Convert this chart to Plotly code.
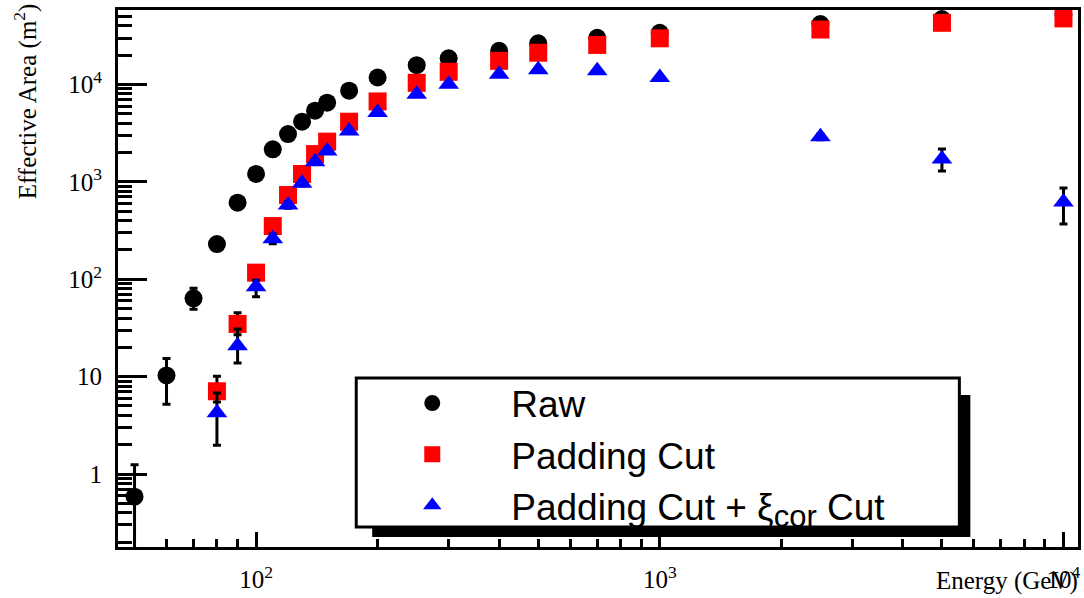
import plotly.graph_objects as go

# ---- data ----
energy_raw = [50, 60, 70, 80, 90, 100, 110, 120, 130, 140, 150, 170, 200,
              250, 300, 400, 500, 700, 1000, 2500, 5000, 10000]
area_raw = [0.586, 10.3, 63.8, 230, 611, 1206, 2160, 3100, 4150, 5380, 6500,
            8630, 11800, 15800, 18600, 22200, 26500, 30200, 34000, 41800,
            47000, 51800]
err_raw_hi = [0.66, 5.1, 16.9, 30, 45, 60, 80, 95, 110, 125, 140, 160, 190,
              220, 240, 270, 290, 320, 340, 380, 400, 430]
err_raw_lo = [0.49, 5.1, 14.6, 30, 45, 60, 80, 95, 110, 125, 140, 160, 190,
              220, 240, 270, 290, 320, 340, 380, 400, 430]

energy_cut = [80, 90, 100, 110, 120, 130, 140, 150, 170, 200, 250, 300, 400,
              500, 700, 1000, 2500, 5000, 10000]
area_pad = [7.08, 34.8, 117, 352, 733, 1206, 1930, 2590, 4150, 6700, 10400,
            13500, 17500, 21200, 25500, 29800, 36700, 43000, 47700]
err_pad_hi = [3.0, 10.6, 18, 35, 50, 65, 85, 100, 130, 160, 200, 220, 250,
              280, 300, 320, 360, 390, 420]
err_pad_lo = [1.6, 7.8, 16, 35, 50, 65, 85, 100, 130, 160, 200, 220, 250,
              280, 300, 320, 360, 390, 420]

area_xi = [4.26, 20.8, 84, 261, 580, 970, 1610, 2075, 3330, 5160, 7950,
           10070, 12760, 14160, 13830, 11800, 2910, 1718, 622]
err_xi_hi = [2.54, 10.1, 14, 30, 45, 60, 75, 85, 110, 140, 170, 190, 210,
             220, 220, 210, 200, 462, 243]
err_xi_lo = [2.28, 7.0, 18, 30, 45, 60, 75, 85, 110, 140, 170, 190, 210,
             220, 220, 210, 200, 424, 252]

names = ["Raw", "Padding Cut",
         "Padding Cut + \u03be<sub><span style=\"font-size:31px\">cor</span></sub>\u00a0Cut"]

x_tickvals = [100, 1000, 10000]
x_ticktext = ["10<sup>2</sup>", "10<sup>3</sup>", "10<sup>4</sup>"]
y_tickvals = [1, 10, 100, 1000, 10000]
y_ticktext = ["1", "10", "10<sup>2</sup>", "10<sup>3</sup>", "10<sup>4</sup>"]
x_minor = [m * 10 ** d for d in (1, 2, 3) for m in range(2, 10) if 45 <= m * 10 ** d <= 11000]
y_minor = [m * 10 ** d for d in (-1, 0, 1, 2, 3, 4) for m in range(2, 10) if 0.15 <= m * 10 ** d <= 60000]

serif = "Liberation Serif"
sans = "Liberation Sans"

def err(hi, lo):
    return dict(type="data", symmetric=False, array=hi, arrayminus=lo,
                color="black", thickness=3, width=4)

fig = go.Figure()
fig.add_trace(go.Scatter(x=energy_raw, y=area_raw, mode="markers", name=names[0],
                         marker=dict(symbol="circle", size=18, color="black", line=dict(width=0)),
                         error_y=err(err_raw_hi, err_raw_lo)))
fig.add_trace(go.Scatter(x=energy_cut, y=area_pad, mode="markers", name=names[1],
                         marker=dict(symbol="square", size=18, color="#ff0000", line=dict(width=0)),
                         error_y=err(err_pad_hi, err_pad_lo)))
fig.add_trace(go.Scatter(x=energy_cut, y=area_xi, mode="markers", name=names[2],
                         marker=dict(symbol="triangle-up", size=18, color="#0000ff", line=dict(width=0)),
                         error_y=err(err_xi_hi, err_xi_lo)))

W, H = 1084, 598
L, R, T, B = 118, 3, 10, 51
pw, ph = W - L - R, H - T - B

def px(x):
    return (x - L) / pw

def py(y):
    return (H - B - y) / ph

fig.update_layout(
    width=W, height=H,
    margin=dict(l=L, r=R, t=T, b=B, pad=0),
    paper_bgcolor="white", plot_bgcolor="white",
    showlegend=True,
    legend=dict(x=px(354), y=py(372.5), xanchor="left", yanchor="top",
                bgcolor="rgba(0,0,0,0)", borderwidth=0, itemwidth=148,
                font=dict(family=sans, size=37, color="black"),
                tracegroupgap=0),
    xaxis=dict(type="log", range=[1.658, 4.036], showgrid=False, zeroline=False,
               showline=True, linewidth=3, linecolor="black", mirror=True,
               ticks="inside", ticklen=15, tickwidth=3, tickcolor="black",
               tickmode="array", tickvals=x_tickvals, ticktext=x_ticktext,
               ticklabelstandoff=8,
               tickfont=dict(family=serif, size=25, color="black"),
               minor=dict(ticks="inside", ticklen=8, tickwidth=3, tickcolor="black",
                          tickmode="array", tickvals=x_minor, showgrid=False)),
    yaxis=dict(type="log", range=[-0.749, 4.765], showgrid=False, zeroline=False,
               showline=True, linewidth=3, linecolor="black", mirror=True,
               ticks="inside", ticklen=29, tickwidth=3, tickcolor="black",
               tickmode="array", tickvals=y_tickvals, ticktext=y_ticktext,
               ticklabelstandoff=8,
               tickfont=dict(family=serif, size=25, color="black"),
               minor=dict(ticks="inside", ticklen=14, tickwidth=3, tickcolor="black",
                          tickmode="array", tickvals=y_minor, showgrid=False)),
    shapes=[
        dict(type="rect", xref="paper", yref="paper", layer="above",
             x0=px(373), x1=px(973), y0=py(537), y1=py(395),
             fillcolor="black", line=dict(width=0)),
        dict(type="rect", xref="paper", yref="paper", layer="above",
             x0=px(357), x1=px(962), y0=py(527), y1=py(378),
             fillcolor="white", line=dict(color="black", width=3)),
    ],
    annotations=[
        dict(text="Effective Area (m<sup>2</sup>)", xref="paper", yref="paper",
             x=px(25), y=py(1), xanchor="center", yanchor="top", textangle=-90,
             showarrow=False, font=dict(family=serif, size=25, color="black")),
        dict(text="Energy (GeV)", xref="paper", yref="paper",
             x=px(1083), y=py(581), xanchor="right", yanchor="middle",
             showarrow=False, font=dict(family=serif, size=25, color="black")),
    ],
)

fig.write_html("out.html")
